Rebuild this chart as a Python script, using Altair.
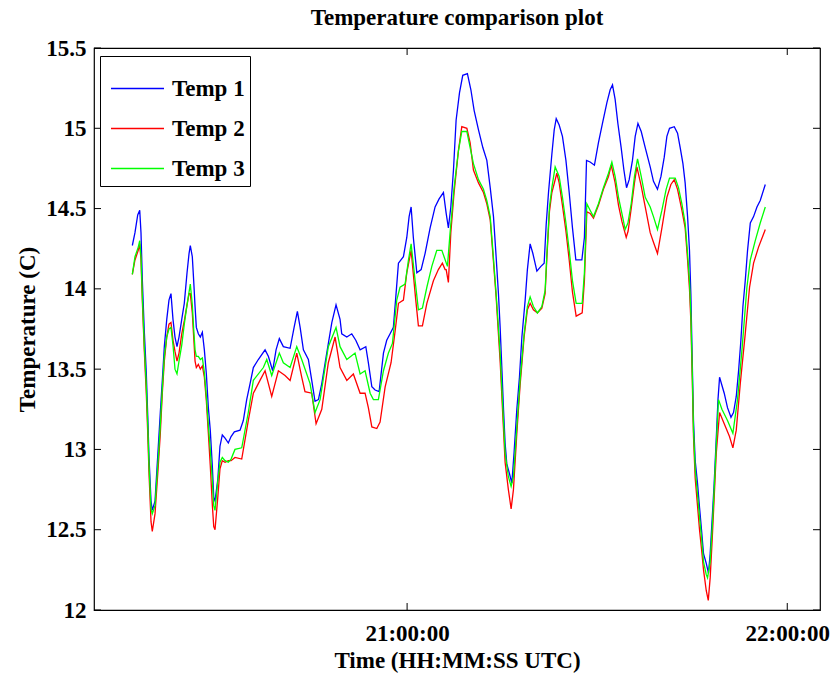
import altair as alt
import pandas as pd

# minutes after 20:00 UTC and temperatures (C)
t1_min = [16.63, 17.05, 17.48, 17.80, 18.00, 18.21, 18.52, 18.84, 19.06, 19.26, 19.58, 19.79, 20.21, 20.73, 21.05, 21.36, 21.68, 22.06, 22.42, 22.74,
          23.05, 23.37, 23.68, 24.00, 24.43, 24.84, 25.26, 25.58, 25.79, 26.10, 26.32, 26.53, 26.73, 27.05, 27.36, 27.68, 28.00, 28.31, 28.63, 28.94,
          29.26, 29.48, 29.68, 30.11, 30.47, 30.84, 31.26, 31.78, 32.21, 32.73, 33.63, 34.15, 34.69, 35.21, 35.73, 36.52, 37.58, 38.10, 38.79, 39.32,
          39.84, 40.47, 41.53, 42.16, 42.68, 43.11, 43.63, 44.42, 44.95, 45.47, 46.00, 46.53, 47.32, 48.11, 48.79, 49.42, 49.69, 50.48, 51.27, 51.90,
          52.58, 53.48, 53.89, 54.43, 54.95, 55.58, 56.26, 56.79, 57.32, 57.84, 58.22, 58.63, 59.42, 59.95, 60.32, 60.63, 60.99, 61.53, 62.21, 62.84,
          63.63, 64.42, 65.05, 65.73, 66.16, 66.52, 66.90, 67.31, 67.74, 68.26, 68.79, 69.52, 70.06, 70.58, 71.26, 71.95, 72.58, 73.11, 73.63, 74.05,
          74.42, 74.68, 74.95, 75.21, 75.47, 75.74, 76.15, 76.53, 76.89, 77.32, 77.73, 78.11, 78.63, 78.99, 79.42, 79.85, 80.48, 81.11, 81.63, 81.95,
          82.31, 82.85, 83.21, 83.53, 84.00, 84.52, 85.06, 85.58, 86.10, 86.64, 87.58, 87.99, 88.31, 88.89, 89.57, 90.20, 90.84, 91.53, 92.05, 92.42,
          92.84, 93.27, 93.79, 94.21, 94.63, 95.05, 95.57, 96.00, 96.43, 96.95, 97.58, 98.37, 98.89, 99.52, 100.06, 100.58, 101.00, 101.42, 102.16, 102.68,
          103.10, 103.53, 103.89, 104.26, 104.57, 104.79, 105.00, 105.20, 105.47, 105.84, 106.15, 106.47, 106.78, 107.21, 107.57, 107.84, 108.16, 108.47, 108.79, 109.06,
          109.31, 109.69, 110.05, 110.57, 111.11, 111.52, 111.95, 112.31, 112.69, 113.00, 113.37, 113.73, 114.16, 114.68, 115.21, 115.74, 116.53]
t1_val = [14.27, 14.35, 14.46, 14.49, 14.35, 14.05, 13.74, 13.48, 13.21, 12.95, 12.68, 12.62, 12.68, 13.02, 13.23, 13.43, 13.64, 13.81, 13.93, 13.97,
          13.81, 13.70, 13.64, 13.70, 13.81, 13.91, 14.10, 14.22, 14.27, 14.20, 14.05, 13.89, 13.76, 13.72, 13.70, 13.73, 13.62, 13.47, 13.26, 13.12,
          12.89, 12.70, 12.68, 12.81, 13.02, 13.09, 13.07, 13.04, 13.08, 13.11, 13.12, 13.18, 13.31, 13.41, 13.51, 13.56, 13.62, 13.58, 13.49, 13.62,
          13.69, 13.64, 13.63, 13.76, 13.86, 13.76, 13.62, 13.56, 13.43, 13.30, 13.31, 13.41, 13.60, 13.79, 13.90, 13.81, 13.72, 13.70, 13.72, 13.68,
          13.62, 13.64, 13.54, 13.39, 13.37, 13.36, 13.60, 13.68, 13.72, 13.76, 13.95, 14.16, 14.20, 14.32, 14.45, 14.51, 14.32, 14.10, 14.12, 14.22,
          14.38, 14.51, 14.56, 14.60, 14.47, 14.38, 14.51, 14.74, 15.05, 15.22, 15.33, 15.34, 15.24, 15.11, 14.99, 14.88, 14.80, 14.63, 14.45, 14.20,
          13.97, 13.76, 13.51, 13.25, 13.04, 12.91, 12.85, 12.79, 12.98, 13.25, 13.45, 13.70, 13.93, 14.12, 14.28, 14.22, 14.11, 14.14, 14.16, 14.40,
          14.60, 14.84, 14.99, 15.06, 15.02, 14.95, 14.80, 14.60, 14.38, 14.18, 14.18, 14.32, 14.80, 14.79, 14.77, 14.91, 15.03, 15.16, 15.24, 15.27,
          15.18, 15.03, 14.88, 14.74, 14.63, 14.68, 14.80, 14.95, 15.03, 14.98, 14.88, 14.76, 14.67, 14.62, 14.70, 14.82, 14.95, 15.00, 15.01, 14.97,
          14.88, 14.78, 14.66, 14.45, 14.24, 13.97, 13.56, 13.18, 12.93, 12.79, 12.64, 12.50, 12.35, 12.29, 12.23, 12.35, 12.58, 12.79, 13.06, 13.31,
          13.45, 13.40, 13.35, 13.26, 13.20, 13.23, 13.33, 13.49, 13.68, 13.89, 14.05, 14.24, 14.41, 14.45, 14.51, 14.55, 14.65]

t2_min = [16.63, 17.05, 17.57, 17.80, 18.00, 18.21, 18.52, 18.84, 19.06, 19.26, 19.58, 19.79, 20.21, 20.73, 21.05, 21.36, 21.68, 22.06, 22.42, 22.74,
          23.05, 23.37, 23.68, 24.00, 24.43, 24.84, 25.26, 25.58, 25.79, 26.10, 26.32, 26.53, 26.73, 27.05, 27.36, 27.68, 28.00, 28.31, 28.63, 28.94,
          29.26, 29.48, 29.68, 30.11, 30.47, 30.84, 31.26, 31.78, 32.21, 32.84, 33.90, 34.94, 35.73, 36.79, 37.58, 38.64, 39.68, 40.74, 41.53, 42.58,
          43.37, 43.89, 44.95, 45.63, 46.53, 47.57, 48.63, 49.42, 50.48, 51.52, 52.58, 53.37, 53.89, 54.43, 55.22, 55.74, 56.53, 57.47, 58.11, 58.63,
          59.42, 59.95, 60.63, 61.37, 61.78, 62.42, 63.11, 64.15, 64.94, 65.57, 66.00, 66.16, 66.52, 66.90, 67.42, 68.10, 68.64, 69.43, 69.95, 70.47,
          71.26, 72.05, 72.58, 73.11, 73.53, 74.05, 74.68, 75.11, 75.47, 75.99, 76.42, 76.78, 77.32, 77.84, 78.47, 78.99, 79.42, 79.94, 80.57, 81.27,
          81.79, 82.06, 82.47, 82.85, 83.64, 84.00, 84.52, 85.06, 85.58, 86.10, 86.68, 87.63, 87.99, 88.37, 88.89, 89.42, 90.20, 90.99, 91.78, 92.21,
          92.84, 93.36, 93.90, 94.58, 94.89, 95.37, 95.89, 96.27, 96.95, 97.58, 98.37, 98.89, 99.52, 100.21, 101.00, 101.64, 102.16, 102.68, 103.37, 103.89,
          104.26, 104.57, 104.79, 105.00, 105.20, 105.47, 105.84, 106.15, 106.47, 106.78, 107.21, 107.53, 107.84, 108.16, 108.47, 108.79, 109.31, 110.05, 110.89, 111.42,
          111.95, 112.58, 113.37, 114.05, 114.68, 115.47, 116.53]
t2_val = [14.09, 14.18, 14.24, 14.28, 14.18, 13.92, 13.62, 13.35, 13.10, 12.85, 12.55, 12.49, 12.60, 12.90, 13.10, 13.35, 13.55, 13.70, 13.78, 13.79,
          13.68, 13.61, 13.55, 13.60, 13.72, 13.80, 13.90, 13.97, 13.97, 13.85, 13.70, 13.55, 13.51, 13.53, 13.50, 13.52, 13.45, 13.30, 13.10, 12.90,
          12.65, 12.52, 12.50, 12.70, 12.88, 12.93, 12.92, 12.93, 12.93, 12.95, 12.94, 13.18, 13.35, 13.43, 13.49, 13.33, 13.49, 13.46, 13.43, 13.60,
          13.45, 13.36, 13.35, 13.16, 13.25, 13.54, 13.70, 13.51, 13.43, 13.47, 13.35, 13.35, 13.26, 13.14, 13.13, 13.17, 13.39, 13.54, 13.74, 13.91,
          13.93, 14.10, 14.24, 13.93, 13.77, 13.77, 13.91, 14.05, 14.12, 14.16, 14.12, 14.12, 14.04, 14.35, 14.60, 14.86, 15.01, 15.00, 14.91, 14.74,
          14.66, 14.60, 14.53, 14.43, 14.22, 13.95, 13.55, 13.20, 12.92, 12.75, 12.63, 12.75, 13.10, 13.40, 13.70, 13.87, 13.91, 13.87, 13.85, 13.88,
          13.97, 14.20, 14.48, 14.60, 14.72, 14.66, 14.52, 14.36, 14.18, 13.98, 13.83, 13.85, 14.05, 14.48, 14.47, 14.44, 14.52, 14.62, 14.70, 14.77,
          14.66, 14.52, 14.42, 14.32, 14.36, 14.50, 14.66, 14.76, 14.64, 14.51, 14.35, 14.29, 14.22, 14.38, 14.57, 14.65, 14.68, 14.62, 14.49, 14.38,
          14.18, 14.00, 13.80, 13.45, 13.08, 12.82, 12.65, 12.50, 12.38, 12.25, 12.12, 12.06, 12.20, 12.45, 12.70, 12.97, 13.23, 13.16, 13.08, 13.01,
          13.12, 13.41, 13.72, 14.01, 14.16, 14.26, 14.37]

t3_min = [16.63, 17.05, 17.57, 17.80, 18.00, 18.21, 18.52, 18.84, 19.06, 19.26, 19.58, 19.79, 20.21, 20.73, 21.05, 21.36, 21.68, 22.06, 22.42, 22.74,
          23.05, 23.37, 23.68, 24.00, 24.43, 24.84, 25.26, 25.58, 25.79, 26.10, 26.32, 26.53, 26.73, 27.05, 27.36, 27.68, 28.00, 28.31, 28.63, 28.94,
          29.26, 29.48, 29.68, 30.11, 30.47, 30.84, 31.26, 31.78, 32.21, 32.84, 33.90, 34.94, 35.73, 37.31, 37.85, 38.64, 39.84, 40.47, 41.53, 42.58,
          43.37, 44.68, 45.47, 46.26, 47.57, 48.79, 49.42, 50.48, 51.79, 52.58, 53.37, 54.16, 54.68, 55.47, 56.26, 57.05, 57.68, 58.37, 58.89, 59.68,
          60.21, 60.63, 61.26, 61.78, 62.42, 63.11, 63.90, 64.69, 65.48, 65.84, 66.36, 66.79, 67.42, 68.10, 68.64, 69.43, 69.95, 70.47, 71.26, 72.05,
          72.58, 73.11, 73.53, 74.05, 74.68, 75.11, 75.47, 75.99, 76.42, 76.78, 77.32, 77.84, 78.47, 78.99, 79.42, 79.94, 80.57, 81.27, 81.79, 82.06,
          82.47, 82.85, 83.37, 84.00, 84.52, 85.06, 85.58, 86.10, 86.68, 87.63, 87.99, 88.37, 88.89, 89.42, 90.20, 90.99, 91.78, 92.32, 92.84, 93.36,
          93.90, 94.42, 94.85, 95.37, 95.89, 96.36, 96.95, 97.58, 98.37, 98.89, 99.52, 100.21, 100.89, 101.42, 102.32, 102.84, 103.37, 103.89, 104.26, 104.57,
          104.79, 105.00, 105.20, 105.47, 105.84, 106.15, 106.47, 106.78, 107.21, 107.41, 107.84, 108.16, 108.47, 108.79, 109.15, 109.69, 110.57, 111.42, 112.15, 112.85,
          113.64, 114.16, 114.95, 115.74, 116.53]
t3_val = [14.09, 14.20, 14.26, 14.30, 14.20, 13.95, 13.65, 13.40, 13.15, 12.90, 12.63, 12.60, 12.65, 12.95, 13.15, 13.38, 13.58, 13.70, 13.75, 13.76,
          13.65, 13.50, 13.47, 13.55, 13.65, 13.78, 13.90, 13.98, 14.03, 13.90, 13.75, 13.62, 13.58, 13.58, 13.56, 13.57, 13.48, 13.33, 13.15, 13.00,
          12.80, 12.65, 12.62, 12.80, 12.92, 12.95, 12.93, 12.92, 12.94, 13.00, 13.01, 13.23, 13.43, 13.51, 13.56, 13.46, 13.60, 13.54, 13.51, 13.64,
          13.56, 13.41, 13.23, 13.31, 13.64, 13.76, 13.64, 13.56, 13.60, 13.47, 13.49, 13.35, 13.31, 13.31, 13.49, 13.60, 13.66, 13.93, 14.01, 14.03,
          14.18, 14.28, 14.05, 13.87, 13.88, 14.01, 14.14, 14.24, 14.24, 14.20, 14.14, 14.35, 14.63, 14.86, 14.98, 14.98, 14.88, 14.78, 14.68, 14.62,
          14.55, 14.45, 14.24, 13.97, 13.60, 13.25, 12.98, 12.83, 12.77, 12.83, 13.14, 13.43, 13.72, 13.89, 13.95, 13.89, 13.85, 13.89, 13.99, 14.22,
          14.51, 14.63, 14.76, 14.70, 14.57, 14.41, 14.24, 14.05, 13.91, 13.91, 14.10, 14.53, 14.49, 14.45, 14.53, 14.63, 14.72, 14.79, 14.70, 14.57,
          14.47, 14.37, 14.41, 14.53, 14.70, 14.81, 14.70, 14.57, 14.51, 14.45, 14.37, 14.49, 14.62, 14.69, 14.69, 14.63, 14.53, 14.41, 14.22, 14.05,
          13.85, 13.50, 13.12, 12.88, 12.72, 12.58, 12.45, 12.30, 12.22, 12.20, 12.30, 12.52, 12.75, 13.02, 13.31, 13.25, 13.18, 13.10, 13.31, 13.62,
          14.01, 14.18, 14.30, 14.41, 14.51]

series_names = ["Temp 1", "Temp 2", "Temp 3"]
series_colors = ["#0000ff", "#ff0000", "#00ff00"]
y_ticks = [12, 12.5, 13, 13.5, 14, 14.5, 15, 15.5]
x_tick_minutes = [60, 120]

base = pd.Timestamp("2000-01-01 20:00:00")
frames = []
for name, mins, vals in zip(series_names, [t1_min, t2_min, t3_min], [t1_val, t2_val, t3_val]):
    frames.append(pd.DataFrame({"minutes": mins, "temp": vals, "series": name}))
df = pd.concat(frames, ignore_index=True)
df["order"] = df.index
df["time"] = (base + pd.to_timedelta(df["minutes"], unit="min")).dt.round("s")

xt = pd.DataFrame({"time": base + pd.to_timedelta(x_tick_minutes, unit="min")})
yt = pd.DataFrame({"temp": y_ticks})

W, H = 726, 562
FONT = "Liberation Serif"

x_scale = alt.Scale(domain=[alt.DateTime(year=2000, month=1, date=1, hours=20, minutes=10, seconds=35),
                            alt.DateTime(year=2000, month=1, date=1, hours=22, minutes=5, seconds=10)])
y_scale = alt.Scale(domain=[12, 15.5], nice=False, zero=False)

x_axis = alt.Axis(title="Time (HH:MM:SS UTC)", format="%H:%M:%S",
                  values=[alt.DateTime(year=2000, month=1, date=1, hours=21),
                          alt.DateTime(year=2000, month=1, date=1, hours=22)],
                  grid=False, ticks=False, domain=False, labelPadding=12, titlePadding=4)
y_axis = alt.Axis(title="Temperature (C)", values=y_ticks, format="~g",
                  grid=False, ticks=False, domain=False, labelPadding=8, titlePadding=6)

X = alt.X("time:T", scale=x_scale, axis=x_axis, title="Time (HH:MM:SS UTC)")
Y = alt.Y("temp:Q", scale=y_scale, axis=y_axis, title="Temperature (C)")

lines = alt.Chart(df).mark_line(strokeWidth=1.3, clip=True).encode(
    x=X, y=Y,
    color=alt.Color("series:N",
                    scale=alt.Scale(domain=series_names, range=series_colors),
                    legend=alt.Legend(orient="none", legendX=6, legendY=8, title=None,
                                      symbolType="stroke", symbolSize=2809, symbolStrokeWidth=1.4,
                                      symbolOffset=5,
                                      labelFont=FONT, labelFontSize=23, labelFontWeight="bold",
                                      labelColor="black", strokeColor="black", fillColor="white",
                                      padding=5, rowPadding=0, labelOffset=7)),
    order="order:Q",
)

xt_bottom = alt.Chart(xt).mark_rule(color="black", strokeWidth=1).encode(
    x=X, y=alt.value(H - 7), y2=alt.value(H))
xt_top = alt.Chart(xt).mark_rule(color="black", strokeWidth=1).encode(
    x=X, y=alt.value(0), y2=alt.value(7))
yt_left = alt.Chart(yt).mark_rule(color="black", strokeWidth=1).encode(
    y=Y, x=alt.value(0), x2=alt.value(7))
yt_right = alt.Chart(yt).mark_rule(color="black", strokeWidth=1).encode(
    y=Y, x=alt.value(W - 7), x2=alt.value(W))

chart = alt.layer(lines, xt_bottom, xt_top, yt_left, yt_right).properties(
    width=W, height=H,
    title=alt.TitleParams("Temperature comparison plot", font=FONT, fontSize=23, fontWeight="bold",
                          color="black", anchor="middle", baseline="alphabetic", offset=22,
                          frame="group", dy=33),
    autosize=alt.AutoSizeParams(type="none"),
    padding={"left": 94, "top": 48, "right": 10, "bottom": 71},
).configure(background="white").configure_view(stroke="black", strokeWidth=1.2).configure_axis(
    labelFont=FONT, labelFontSize=23, labelFontWeight="bold", labelColor="black",
    titleFont=FONT, titleFontSize=23, titleFontWeight="bold", titleColor="black",
)

chart.save("out.html", embed_options={"renderer": "svg", "actions": False})
